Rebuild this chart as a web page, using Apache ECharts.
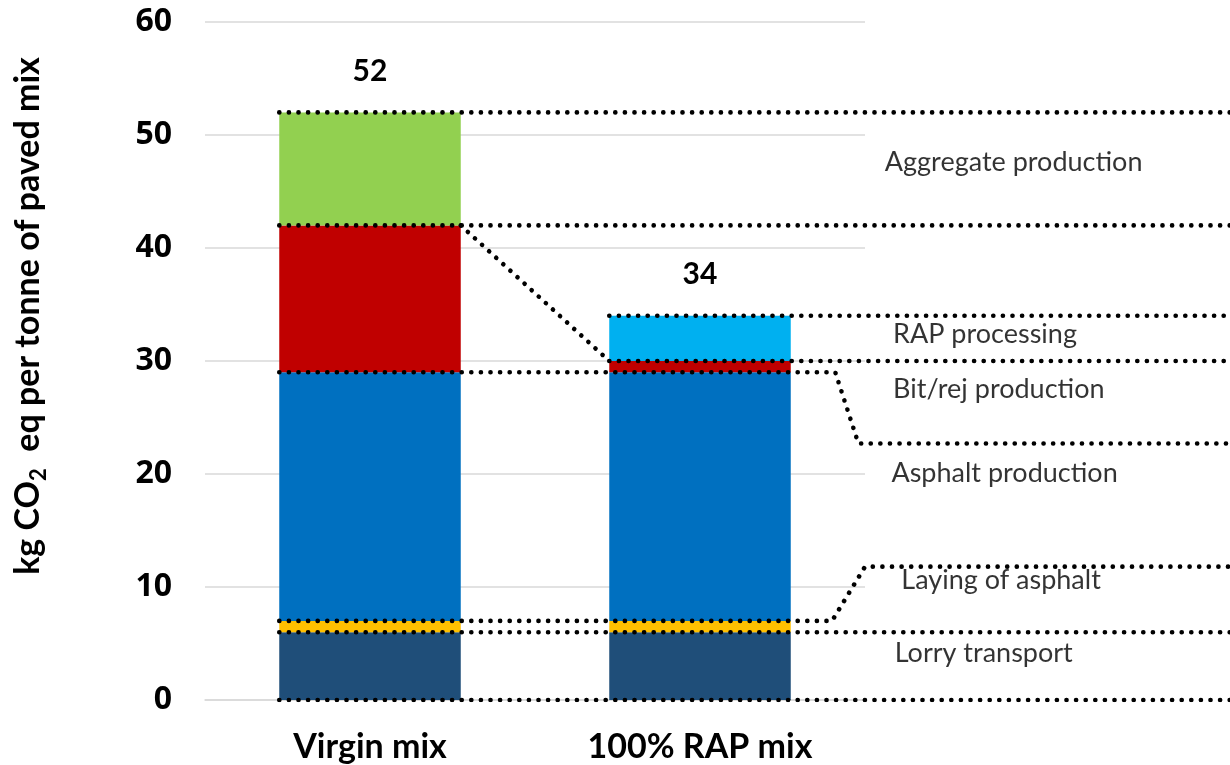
<!DOCTYPE html>
<html>
<head>
<meta charset="utf-8">
<script src="https://cdn.jsdelivr.net/npm/echarts@6/dist/echarts.min.js"></script>
<style>
  html, body { margin: 0; padding: 0; background: #fff; }
  #chart { width: 1230px; height: 765px; }
</style>
</head>
<body>
<div id="chart"></div>
<script>
// categories and stacked values (kg CO2 eq per tonne)
var categories = ['Virgin mix', '100% RAP mix'];
var stageNames = ['Lorry transport', 'Laying of asphalt', 'Asphalt production', 'Bit/rej production', 'RAP processing', 'Aggregate production'];
var lorry = [6, 6];
var laying = [1, 1];
var asphalt = [22, 22];
var bitrej = [13, 1];
var rapProc = [0, 4];
var aggregate = [10, 0];
var totals = [52, 34];
var stageColors = ['#1F4E79', '#FFC000', '#0070C0', '#C00000', '#00B0F0', '#92D050'];
var yTicks = [0, 10, 20, 30, 40, 50, 60];

// label text on the right (x in category units, y in value units)
var sideLabelX = [1.59, 1.61, 1.58, 1.585, 1.585, 1.56];
var sideLabelY = [4.15, 10.55, 20.05, 27.5, 32.4, 47.6];
// levels where the leader lines break away to the label column
var breakLevels = [11.8, 22.7];

var stages = [lorry, laying, asphalt, bitrej, rapProc, aggregate];

// cumulative tops for each bar
function cumulative(idx) {
    var out = [0];
    var s = 0;
    stages.forEach(function (arr) { s += arr[idx]; out.push(s); });
    return out;
}
var cumV = cumulative(0); // 0,6,7,29,42,42,52
var cumR = cumulative(1); // 0,6,7,29,30,34,34

var chart = echarts.init(document.getElementById('chart'));

var half = 0.275;
var vL = 0 - half, vR = 0 + half, rL = 1 - half;
var xEnd = -0.5 + 1025 / 330;

var leaders = [
    [[vL, cumV[0]], [xEnd, cumV[0]]],
    [[vL, cumV[1]], [xEnd, cumV[1]]],
    [[vL, cumV[2]], [1.40, cumV[2]], [1.50, breakLevels[0]], [xEnd, breakLevels[0]]],
    [[vL, cumV[3]], [1.41, cumV[3]], [1.48, breakLevels[1]], [xEnd, breakLevels[1]]],
    [[rL, cumR[4]], [xEnd, cumR[4]]],
    [[rL, cumR[5]], [xEnd, cumR[5]]],
    [[vL, cumV[4]], [xEnd, cumV[4]]],
    [[vR, cumV[4]], [rL, cumR[4]]],
    [[vL, cumV[6]], [xEnd, cumV[6]]]
];

var series = [];
stages.forEach(function (arr, i) {
    series.push({
        name: stageNames[i],
        type: 'bar',
        stack: 'total',
        barWidth: '55%',
        xAxisIndex: 0,
        yAxisIndex: 0,
        itemStyle: { color: stageColors[i] },
        data: arr
    });
});
// totals on top
series.push({
    name: 'Total',
    type: 'bar',
    stack: 'total',
    barWidth: '55%',
    data: [0, 0],
    itemStyle: { color: 'transparent' },
    label: {
        show: true,
        position: 'top',
        distance: 26,
        formatter: function (p) { return totals[p.dataIndex]; },
        fontFamily: 'Lato',
        fontWeight: 'bold',
        fontSize: 30,
        color: '#000'
    }
});
leaders.forEach(function (pts) {
    series.push({
        type: 'line',
        xAxisIndex: 1,
        yAxisIndex: 1,
        data: pts,
        symbol: 'none',
        silent: true,
        z: 5,
        lineStyle: { color: '#000', width: 4.6, type: [0.1, 9.5], cap: 'round' }
    });
});
series.push({
    type: 'scatter',
    xAxisIndex: 1,
    yAxisIndex: 1,
    symbolSize: 0,
    data: stageNames.map(function (n, i) { return { name: n, value: [sideLabelX[i], sideLabelY[i]] }; }),
    label: {
        show: true,
        position: 'right',
        distance: 0,
        formatter: '{b}',
        fontFamily: 'Lato',
        fontSize: 27,
        color: '#000'
    }
});

var option = {
    animation: false,
    grid: [
        { left: 205, right: 365, top: 22, bottom: 65 },
        { left: 205, right: 0, top: 22, bottom: 65 }
    ],
    xAxis: [{
        type: 'category',
        gridIndex: 0,
        data: categories,
        axisLine: { lineStyle: { color: '#d9d9d9', width: 1.5 } },
        axisTick: { show: false },
        axisLabel: { fontFamily: 'Lato', fontWeight: 'bold', fontSize: 34, color: '#000', margin: 30 }
    }, {
        type: 'value',
        gridIndex: 1,
        min: -0.5,
        max: xEnd,
        show: false
    }],
    yAxis: [{
        type: 'value',
        gridIndex: 0,
        min: yTicks[0],
        max: yTicks[yTicks.length - 1],
        interval: 10,
        axisLabel: { fontFamily: 'Open Sans', fontWeight: 'bold', fontSize: 32, color: '#000', margin: 33 },
        splitLine: { lineStyle: { color: '#d9d9d9', width: 1.5 } },
        name: '{a|kg CO}{s|2}{a|  eq per tonne of paved mix}',
        nameLocation: 'middle',
        nameGap: 155,
        nameTextStyle: {
            padding: [0, 0, 0, 90],
            rich: {
                a: { fontFamily: 'Lato', fontWeight: 'bold', fontSize: 34, color: '#000', lineHeight: 44 },
                s: { fontFamily: 'Lato', fontWeight: 'bold', fontSize: 22, color: '#000', lineHeight: 44, verticalAlign: 'bottom' }
            }
        }
    }, {
        type: 'value',
        gridIndex: 1,
        min: 0,
        max: 60,
        show: false
    }],
    series: series
};
chart.setOption(option);
</script>
</body>
</html>
